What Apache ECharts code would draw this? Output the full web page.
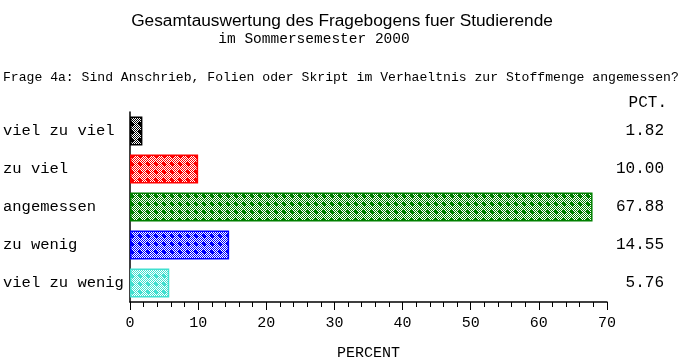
<!DOCTYPE html>
<html>
<head>
<meta charset="utf-8">
<script src="https://cdn.jsdelivr.net/npm/echarts@6/dist/echarts.min.js"></script>
<style>html,body{margin:0;padding:0;background:#fff}#c{width:685px;height:364px}</style>
</head>
<body>
<div id="c"></div>
<script>
const categories = ['viel zu viel', 'zu viel', 'angemessen', 'zu wenig', 'viel zu wenig'];
const values = [1.82, 10.00, 67.88, 14.55, 5.76];
const barColors = ['#000000', '#ff0000', '#008000', '#0000ff', '#40e0d0'];
const xTicks = [0, 10, 20, 30, 40, 50, 60, 70];

function makePattern(color) {
  const c = document.createElement('canvas');
  c.width = 8; c.height = 8;
  const g = c.getContext('2d');
  g.fillStyle = '#ffffff';
  g.fillRect(0, 0, 8, 8);
  g.fillStyle = color;
  for (let y = 0; y < 8; y++) for (let x = 0; x < 8; x++) {
    if ((x + y) % 2 === 0) g.fillRect(x, y, 1, 1);
  }
  g.fillRect(3, 2, 2, 4);
  g.fillRect(2, 3, 4, 2);
  return c;
}

const mono = 'Liberation Mono, Courier New, monospace';
const chart = echarts.init(document.getElementById('c'), null, {renderer: 'canvas'});
chart.setOption({
  animation: false,
  backgroundColor: '#ffffff',
  title: [
    {text: 'Gesamtauswertung des Fragebogens fuer Studierende', left: 342, top: 13, padding: 0, textAlign: 'center',
     textStyle: {fontFamily: 'Liberation Sans, Arial, sans-serif', fontSize: 17.3, fontWeight: 'normal', color: '#000'}},
    {text: 'im Sommersemester 2000', left: 314, top: 32, padding: 0, textAlign: 'center',
     textStyle: {fontFamily: mono, fontSize: 14.5, fontWeight: 'normal', color: '#000'}},
    {text: 'Frage 4a: Sind Anschrieb, Folien oder Skript im Verhaeltnis zur Stoffmenge angemessen?', left: 3, top: 71, padding: 0,
     textStyle: {fontFamily: mono, fontSize: 13.1, fontWeight: 'normal', color: '#000'}},
    {text: 'PCT.', left: 667, top: 95, padding: 0, textAlign: 'right',
     textStyle: {fontFamily: mono, fontSize: 16, fontWeight: 'normal', color: '#000'}}
  ],
  grid: {left: 130, right: 78, top: 112, bottom: 62, containLabel: false, outerBoundsMode: 'none'},
  xAxis: {
    type: 'value', min: 0, max: 70, interval: 10,
    name: 'PERCENT', nameLocation: 'middle', nameGap: 44,
    nameTextStyle: {fontFamily: mono, fontSize: 15, color: '#000'},
    axisLine: {show: true, lineStyle: {color: '#000', width: 1.5}},
    axisTick: {show: true, length: 8, lineStyle: {color: '#000'}},
    minorTick: {show: true, splitNumber: 5, length: 5, lineStyle: {color: '#000'}},
    splitLine: {show: false},
    axisLabel: {fontFamily: mono, fontSize: 15, color: '#000', margin: 14,
      formatter: v => xTicks.includes(v) ? String(v) : ''}
  },
  yAxis: [
    {type: 'category', data: categories, inverse: true,
     axisLine: {show: true, onZero: false, lineStyle: {color: '#000', width: 1.5}},
     axisTick: {show: false},
     axisLabel: {fontFamily: mono, fontSize: 15.5, color: '#000', align: 'left', margin: 127}},
    {type: 'category', data: values.map(v => v.toFixed(2)), inverse: true, position: 'right',
     axisLine: {show: false}, axisTick: {show: false},
     axisLabel: {fontFamily: mono, fontSize: 16, color: '#000', align: 'right', margin: 57}}
  ],
  series: [{
    type: 'bar', yAxisIndex: 0, barWidth: 29,
    data: values.map((v, i) => ({
      value: v,
      itemStyle: {color: {image: makePattern(barColors[i]), repeat: 'repeat'},
                  borderColor: barColors[i], borderWidth: 1.5}
    }))
  }]
});
</script>
</body>
</html>
